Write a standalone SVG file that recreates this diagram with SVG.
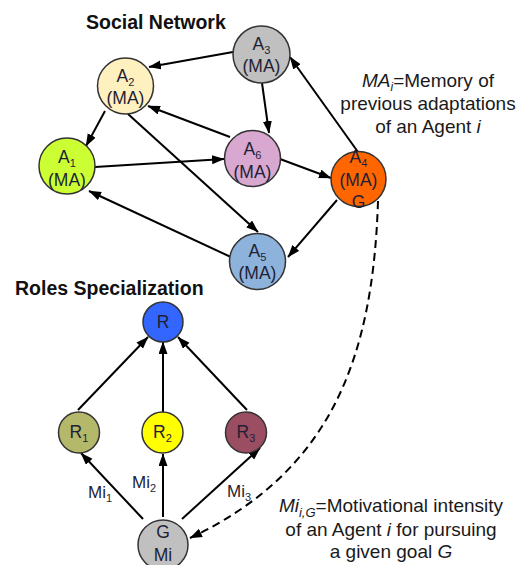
<svg xmlns="http://www.w3.org/2000/svg" width="520" height="565" viewBox="0 0 520 565">
  <defs>
    <marker id="arrow" markerUnits="userSpaceOnUse" markerWidth="14" markerHeight="10" refX="12" refY="4.5" orient="auto">
      <path d="M0,0 L12.5,4.5 L0,9 z" fill="#000"/>
    </marker>
    <style>
      .node { stroke: #333; stroke-width: 1.5; }
      .lbl { font-family: "Liberation Sans", Arial, sans-serif; font-size: 17.5px; fill: #1f1f35; text-anchor: middle; }
      .sub { font-size: 11px; }
      .title { font-family: "Liberation Sans", Arial, sans-serif; font-size: 19.5px; font-weight: bold; fill: #111; }
      .note { font-family: "Liberation Sans", Arial, sans-serif; font-size: 19px; fill: #1a1a1a; text-anchor: middle; }
      .edge { stroke: #000; stroke-width: 2; fill: none; marker-end: url(#arrow); }
      .dash { stroke: #000; stroke-width: 2; fill: none; stroke-dasharray: 8 5; marker-end: url(#arrow); }
      .mi { font-family: "Liberation Sans", Arial, sans-serif; font-size: 17px; fill: #1f1f35; }
    </style>
  </defs>

  <rect width="520" height="565" fill="#fff"/>

  <text class="title" x="86" y="29">Social Network</text>
  <text class="title" x="15" y="295">Roles Specialization</text>

  <!-- connectors -->
  <g id="connectors">
    <line class="edge" x1="233" y1="52" x2="149" y2="67"/>
    <line class="edge" x1="262" y1="83" x2="269" y2="133"/>
    <line class="edge" x1="105" y1="111" x2="86" y2="146"/>
    <line class="edge" x1="230" y1="137" x2="148" y2="106"/>
    <line class="edge" x1="95" y1="167" x2="224" y2="159"/>
    <line class="edge" x1="280" y1="159" x2="331" y2="178"/>
    <line class="edge" x1="358" y1="152" x2="290" y2="57"/>
    <line class="edge" x1="337" y1="200" x2="288" y2="257"/>
    <line class="edge" x1="233" y1="258" x2="89" y2="191"/>
    <line class="edge" x1="128" y1="114" x2="258" y2="232"/>
    <path class="dash" d="M378,201 C373,360 330,472 190,538"/>

    <line class="edge" x1="78" y1="410" x2="148" y2="337"/>
    <line class="edge" x1="163" y1="412" x2="163" y2="342"/>
    <line class="edge" x1="247" y1="410" x2="178" y2="337"/>
    <line class="edge" x1="143" y1="519" x2="81" y2="453"/>
    <line class="edge" x1="163" y1="517" x2="163" y2="454"/>
    <line class="edge" x1="182" y1="519" x2="260" y2="448"/>
  </g>

  <!-- social network agents -->
  <g id="A1">
    <circle class="node" cx="67" cy="166" r="28" fill="#ccff33"/>
    <text class="lbl" x="67" y="163">A<tspan class="sub" dy="4">1</tspan></text>
    <text class="lbl" x="67" y="186">(MA)</text>
  </g>
  <g id="A2">
    <circle class="node" cx="125.5" cy="86" r="28" fill="#fff0c0"/>
    <text class="lbl" x="125.5" y="82">A<tspan class="sub" dy="4">2</tspan></text>
    <text class="lbl" x="125.5" y="104">(MA)</text>
  </g>
  <g id="A3">
    <circle class="node" cx="261.5" cy="54.5" r="28.5" fill="#c0c0c0"/>
    <text class="lbl" x="261.5" y="50">A<tspan class="sub" dy="4">3</tspan></text>
    <text class="lbl" x="261.5" y="72">(MA)</text>
  </g>
  <g id="A6">
    <circle class="node" cx="252.5" cy="158.5" r="28" fill="#d8a8d0"/>
    <text class="lbl" x="252.5" y="155">A<tspan class="sub" dy="4">6</tspan></text>
    <text class="lbl" x="252.5" y="178">(MA)</text>
  </g>
  <g id="A4">
    <circle class="node" cx="358.5" cy="179" r="27.5" fill="#ff6600"/>
    <text class="lbl" x="358.5" y="163">A<tspan class="sub" dy="4">4</tspan></text>
    <text class="lbl" x="358.5" y="186">(MA)</text>
    <text class="lbl" x="358.5" y="208">G</text>
  </g>
  <g id="A5">
    <circle class="node" cx="257.5" cy="261.5" r="28" fill="#8db3dc"/>
    <text class="lbl" x="257.5" y="257">A<tspan class="sub" dy="4">5</tspan></text>
    <text class="lbl" x="257.5" y="279">(MA)</text>
  </g>

  <!-- roles -->
  <g id="R">
    <circle class="node" cx="163" cy="322" r="20" fill="#3366ff"/>
    <text class="lbl" x="163" y="328">R</text>
  </g>
  <g id="R1">
    <circle class="node" cx="79" cy="432.5" r="20.5" fill="#b3b86b"/>
    <text class="lbl" x="79" y="438">R<tspan class="sub" dy="4">1</tspan></text>
  </g>
  <g id="R2">
    <circle class="node" cx="162.5" cy="432.5" r="20.5" fill="#ffff00"/>
    <text class="lbl" x="162.5" y="438">R<tspan class="sub" dy="4">2</tspan></text>
  </g>
  <g id="R3">
    <circle class="node" cx="246" cy="432.5" r="20.5" fill="#9b4d61"/>
    <text class="lbl" x="246" y="438">R<tspan class="sub" dy="4">3</tspan></text>
  </g>
  <g id="G">
    <circle class="node" cx="163" cy="545" r="25" fill="#c0c0c0"/>
    <text class="lbl" x="163" y="538">G</text>
    <text class="lbl" x="163" y="561">Mi</text>
  </g>

  <!-- motivational intensity labels -->
  <text class="mi" x="88" y="498">Mi<tspan class="sub" dy="4">1</tspan></text>
  <text class="mi" x="132" y="488">Mi<tspan class="sub" dy="4">2</tspan></text>
  <text class="mi" x="227" y="497">Mi<tspan class="sub" dy="4">3</tspan></text>

  <!-- notes -->
  <text class="note" x="428" y="87"><tspan font-style="italic">MA<tspan font-size="12" dy="4">i</tspan></tspan><tspan dy="-4">=Memory of</tspan></text>
  <text class="note" x="428" y="110">previous adaptations</text>
  <text class="note" x="428" y="133">of an Agent <tspan font-style="italic">i</tspan></text>

  <text class="note" x="391" y="512"><tspan font-style="italic">Mi<tspan font-size="13" dy="5">i,G</tspan></tspan><tspan dy="-5">=Motivational intensity</tspan></text>
  <text class="note" x="391" y="536">of an Agent <tspan font-style="italic">i</tspan> for pursuing</text>
  <text class="note" x="391" y="558">a given goal <tspan font-style="italic">G</tspan></text>
</svg>
